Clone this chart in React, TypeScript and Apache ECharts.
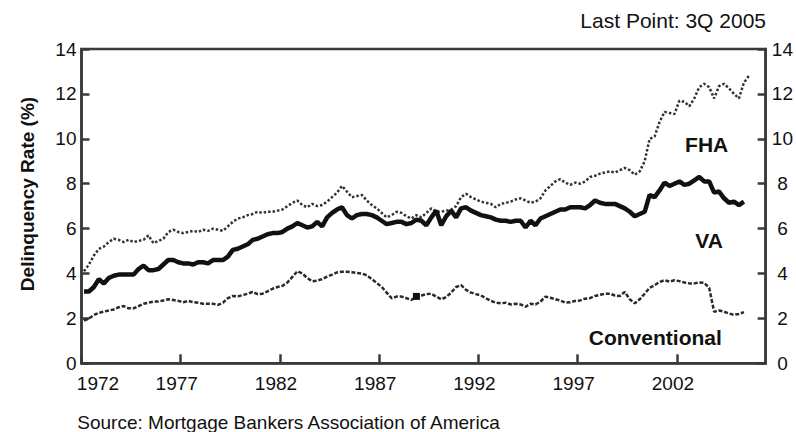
import React, { useEffect, useRef } from "react";
import * as echarts from "echarts";

// Quarterly delinquency rates (%), 1972 Q1 .. 2005 Q3
const START_YEAR = 1972.125;
const QUARTER = 0.25;

const fha = [
  4.1, 4.4, 4.8, 5.1, 5.2, 5.4, 5.55, 5.5, 5.4, 5.5,
  5.4, 5.45, 5.5, 5.7, 5.35, 5.45, 5.55, 5.85, 5.95, 5.85,
  5.8, 5.85, 5.9, 5.85, 5.95, 5.9, 6.0, 5.95, 5.9, 6.1,
  6.3, 6.45, 6.5, 6.6, 6.65, 6.75, 6.7, 6.75, 6.75, 6.8,
  6.85, 7.0, 7.15, 7.25, 7.05, 6.95, 7.1, 7.0, 7.05, 7.2,
  7.4, 7.6, 7.9, 7.65, 7.4, 7.45, 7.5, 7.25, 7.05, 6.9,
  6.7, 6.5, 6.6, 6.75, 6.7, 6.55, 6.45, 6.6, 6.5, 6.7,
  6.9, 6.75, 6.75, 6.8, 6.85, 7.0, 7.4, 7.55, 7.4, 7.3,
  7.2, 7.15, 7.1, 6.95, 7.1, 7.15, 7.2, 7.3, 7.35, 7.25,
  7.15, 7.2, 7.35, 7.7, 7.9, 8.1, 8.2, 8.05, 7.95, 8.05,
  8.0, 8.1, 8.3, 8.35, 8.45, 8.5, 8.55, 8.5, 8.6, 8.7,
  8.6, 8.4, 8.55, 9.0, 10.0, 10.1, 10.75, 11.2, 11.15, 11.1,
  11.7, 11.65, 11.45, 11.8, 12.3, 12.45, 12.3, 11.8, 12.35, 12.45,
  12.25, 12.0, 11.8, 12.5, 12.8,
];

const va = [
  3.2, 3.2, 3.4, 3.75, 3.55, 3.8, 3.9, 3.95, 3.95, 3.95,
  3.95, 4.2, 4.35, 4.15, 4.15, 4.2, 4.4, 4.6, 4.6, 4.5,
  4.45, 4.45, 4.4, 4.5, 4.5, 4.45, 4.6, 4.6, 4.6, 4.75,
  5.05, 5.1, 5.2, 5.3, 5.5, 5.55, 5.65, 5.75, 5.8, 5.8,
  5.85, 6.0, 6.1, 6.25, 6.15, 6.05, 6.1, 6.3, 6.1, 6.5,
  6.7, 6.85, 6.95, 6.6, 6.45, 6.6, 6.65, 6.65, 6.6, 6.5,
  6.35, 6.2, 6.25, 6.3, 6.3, 6.2, 6.25, 6.4, 6.35, 6.15,
  6.5, 6.8, 6.15, 6.55, 6.8, 6.5, 6.9, 6.95, 6.8, 6.7,
  6.6, 6.55, 6.5, 6.4, 6.35, 6.35, 6.3, 6.35, 6.35, 6.05,
  6.35, 6.15, 6.45, 6.55, 6.65, 6.75, 6.85, 6.85, 6.95, 6.95,
  6.95, 6.9, 7.05, 7.25, 7.15, 7.1, 7.1, 7.1, 7.0, 6.9,
  6.75, 6.55, 6.65, 6.75, 7.5, 7.4, 7.7, 8.05, 7.9, 8.0,
  8.1, 7.95, 8.0, 8.15, 8.3, 8.1, 8.1, 7.6, 7.65, 7.35,
  7.15, 7.2, 7.05, 7.2,
];

const conventional = [
  1.9, 2.0, 2.15, 2.25, 2.3, 2.35, 2.4, 2.5, 2.55, 2.45,
  2.45, 2.55, 2.65, 2.7, 2.75, 2.75, 2.8, 2.85, 2.82, 2.78,
  2.72, 2.78, 2.72, 2.7, 2.65, 2.65, 2.65, 2.6, 2.7, 2.9,
  3.0, 2.98, 3.04, 3.1, 3.18, 3.08, 3.1, 3.2, 3.32, 3.4,
  3.45, 3.6, 3.85, 4.1, 4.0, 3.8, 3.65, 3.68, 3.75, 3.86,
  3.95, 4.05, 4.08, 4.08, 4.06, 4.02, 4.0, 3.92, 3.75, 3.58,
  3.4, 3.15, 2.9, 2.97, 2.97, 2.9, 2.82, 2.98, 3.02, 3.08,
  3.1, 2.97, 2.85, 2.95, 3.15, 3.4, 3.48, 3.27, 3.15, 3.08,
  3.02, 2.9, 2.78, 2.7, 2.67, 2.7, 2.62, 2.65, 2.62, 2.52,
  2.65, 2.62, 2.75, 2.97, 2.92, 2.85, 2.8, 2.7, 2.72, 2.78,
  2.8, 2.88, 2.9, 3.0, 3.05, 3.1, 3.1, 3.02, 3.0, 3.18,
  2.85, 2.67, 2.85, 3.1, 3.36, 3.48, 3.62, 3.7, 3.64, 3.7,
  3.66, 3.6, 3.56, 3.56, 3.6, 3.58, 3.36, 2.3, 2.35, 2.3,
  2.22, 2.16, 2.2, 2.28,
];

// quarter on the conventional series that carries a small square marker
const conventionalMarkIndex = 67;

const X_MIN = 1972;
const X_MAX = 2006.47;
const X_INTERVAL = 5;
const Y_MIN = 0;
const Y_MAX = 14;
const Y_INTERVAL = 2;

const FONT = "'Liberation Sans', Arial, Helvetica, sans-serif";
const AXIS_COLOR = "#3a3a3a";
const TEXT_COLOR = "#111";

function toPairs(arr: number[]) {
  return arr.map((v, i) => [START_YEAR + i * QUARTER, v]);
}

export default function App() {
  const ref = useRef<HTMLDivElement>(null);

  useEffect(() => {
    if (!ref.current) return;
    const chart = echarts.init(ref.current, undefined, { renderer: "svg" });

    const yAxisBase = {
      type: "value",
      min: Y_MIN,
      max: Y_MAX,
      interval: Y_INTERVAL,
      axisLine: { show: true, lineStyle: { color: AXIS_COLOR, width: 2.5 } },
      axisTick: { show: true, inside: true, length: 8, lineStyle: { color: AXIS_COLOR, width: 2.5 } },
      splitLine: { show: false },
    };

    chart.setOption({
      animation: false,
      grid: {
        left: 81.5,
        right: 29.3,
        top: 49,
        bottom: 68.7,
        show: true,
        borderColor: AXIS_COLOR,
        borderWidth: 2.5,
        backgroundColor: "transparent",
      },
      xAxis: {
        type: "value",
        min: X_MIN,
        max: X_MAX,
        interval: X_INTERVAL,
        axisLine: { show: true, lineStyle: { color: AXIS_COLOR, width: 2.5 } },
        axisTick: { show: true, inside: true, length: 9, lineStyle: { color: AXIS_COLOR, width: 2.5 } },
        splitLine: { show: false },
        axisLabel: {
          showMaxLabel: false,
          margin: 11,
          color: TEXT_COLOR,
          fontFamily: FONT,
          fontSize: 19,
          formatter: (v: number) => {
            const r = Math.round(v);
            if (Math.abs(v - r) > 1e-6 || (r - X_MIN) % X_INTERVAL !== 0) return "";
            if (r === X_MIN) return "{first|" + r + "}";
            return "{n|" + r + "}";
          },
          rich: {
            first: { padding: [0, 0, 0, 33], fontFamily: FONT, fontSize: 19, color: TEXT_COLOR },
            n: { padding: [0, 8, 0, 0], fontFamily: FONT, fontSize: 19, color: TEXT_COLOR },
          },
        },
      },
      yAxis: [
        {
          ...yAxisBase,
          position: "left",
          axisLabel: { margin: 5, color: TEXT_COLOR, fontFamily: FONT, fontSize: 19 },
        },
        {
          ...yAxisBase,
          position: "right",
          axisLabel: { margin: 16.8, align: "center", color: TEXT_COLOR, fontFamily: FONT, fontSize: 19 },
        },
      ],
      series: [
        {
          name: "FHA",
          type: "line",
          data: toPairs(fha),
          showSymbol: false,
          symbol: "none",
          lineStyle: { color: "#333", width: 2.5, type: [2.5, 2] },
          z: 3,
        },
        {
          name: "VA",
          type: "line",
          data: toPairs(va),
          showSymbol: false,
          symbol: "none",
          lineStyle: { color: "#111", width: 4.5, type: "solid" },
          z: 4,
        },
        {
          name: "Conventional",
          type: "line",
          data: toPairs(conventional),
          showSymbol: false,
          symbol: "none",
          lineStyle: { color: "#2a2a2a", width: 2.5, type: [4, 1.8] },
          markPoint: {
            symbol: "rect",
            symbolSize: 7,
            itemStyle: { color: "#111" },
            label: { show: false },
            data: [
              {
                coord: [
                  START_YEAR + conventionalMarkIndex * QUARTER,
                  conventional[conventionalMarkIndex],
                ],
              },
            ],
          },
          z: 3,
        },
      ],
      graphic: [
        {
          type: "text",
          x: 766,
          y: 20.5,
          style: { text: "Last Point: 3Q 2005", fill: TEXT_COLOR, fontFamily: FONT, fontSize: 21, align: "right", verticalAlign: "middle" },
        },
        {
          type: "text",
          x: 27,
          y: 194,
          rotation: Math.PI / 2,
          style: { text: "Delinquency Rate (%)", fill: TEXT_COLOR, fontFamily: FONT, fontSize: 19, fontWeight: "bold", align: "center", verticalAlign: "middle" },
        },
        {
          type: "text",
          x: 706.7,
          y: 144.2,
          style: { text: "FHA", fill: TEXT_COLOR, fontFamily: FONT, fontSize: 21, fontWeight: "bold", align: "center", verticalAlign: "middle" },
        },
        {
          type: "text",
          x: 709,
          y: 240.8,
          style: { text: "VA", fill: TEXT_COLOR, fontFamily: FONT, fontSize: 21, fontWeight: "bold", align: "center", verticalAlign: "middle" },
        },
        {
          type: "text",
          x: 655.3,
          y: 337,
          style: { text: "Conventional", fill: TEXT_COLOR, fontFamily: FONT, fontSize: 21, fontWeight: "bold", align: "center", verticalAlign: "middle" },
        },
        {
          type: "text",
          x: 77.3,
          y: 422.5,
          style: { text: "Source: Mortgage Bankers Association of America", fill: TEXT_COLOR, fontFamily: FONT, fontSize: 19, align: "left", verticalAlign: "middle" },
        },
      ],
    });

    return () => chart.dispose();
  }, []);

  return (
    <div
      ref={ref}
      style={{ position: "fixed", left: 0, top: 0, width: 796, height: 432, background: "#fff" }}
    />
  );
}
